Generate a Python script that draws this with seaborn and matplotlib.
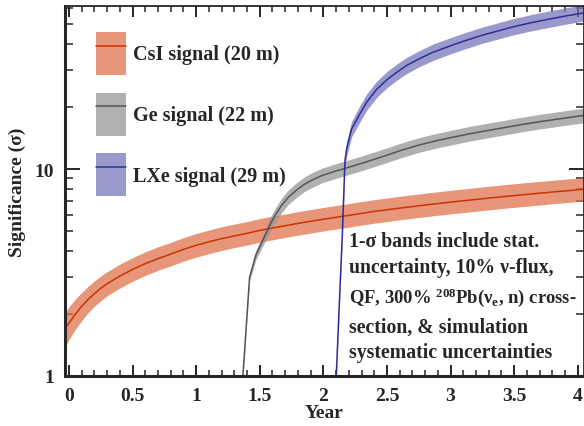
import numpy as np
import pandas as pd
import matplotlib
matplotlib.use("Agg")
import matplotlib.pyplot as plt
import seaborn as sns
from matplotlib.patches import Patch
from matplotlib.lines import Line2D
from matplotlib.legend_handler import HandlerTuple
from matplotlib.ticker import LogLocator, FixedLocator, MultipleLocator, NullFormatter

# CsI signal (20 m)
csi_year = [-0.03, 0.0, 0.05, 0.1, 0.15, 0.2, 0.25, 0.3, 0.4, 0.5, 0.6, 0.7, 0.8, 0.9, 1.0, 1.1, 1.2,
            1.3, 1.4, 1.5, 1.6, 1.7, 1.8, 1.9, 2.0, 2.2, 2.4, 2.6, 2.8, 3.0, 3.2, 3.4, 3.6, 3.8, 4.05]
csi_sig = [1.70, 1.80, 1.99, 2.17, 2.34, 2.50, 2.65, 2.79, 3.04, 3.27, 3.49, 3.69, 3.88, 4.09, 4.28, 4.45, 4.61,
           4.75, 4.89, 5.05, 5.19, 5.32, 5.46, 5.59, 5.72, 5.97, 6.24, 6.47, 6.70, 6.92, 7.13, 7.34, 7.54, 7.74, 7.98]
csi_lo = [1.38, 1.50, 1.68, 1.85, 2.02, 2.17, 2.31, 2.44, 2.66, 2.87, 3.06, 3.24, 3.40, 3.59, 3.75, 3.90, 4.04,
          4.17, 4.29, 4.43, 4.55, 4.67, 4.79, 4.90, 5.02, 5.24, 5.47, 5.68, 5.88, 6.07, 6.25, 6.44, 6.61, 6.79, 7.00]
csi_hi = [2.00, 2.16, 2.35, 2.53, 2.71, 2.88, 3.04, 3.19, 3.47, 3.73, 3.98, 4.21, 4.42, 4.66, 4.88, 5.07, 5.26,
          5.42, 5.57, 5.76, 5.92, 6.06, 6.22, 6.37, 6.52, 6.81, 7.11, 7.38, 7.64, 7.89, 8.13, 8.37, 8.60, 8.82, 9.10]

# Ge signal (22 m)
ge_year = [1.365, 1.42, 1.47, 1.541, 1.58, 1.62, 1.67, 1.724, 1.79, 1.855, 1.92, 1.987, 2.08, 2.17,
           2.327, 2.47, 2.62, 2.75, 2.89, 3.02, 3.15, 3.28, 3.41, 3.56, 3.72, 3.88, 4.05]
ge_sig = [0.95, 3.0, 3.85, 4.76, 5.38, 5.95, 6.65, 7.3, 7.92, 8.47, 8.9, 9.29, 9.7, 10.07,
          10.77, 11.5, 12.35, 13.05, 13.7, 14.25, 14.8, 15.3, 15.8, 16.4, 17.0, 17.55, 18.15]
ge_lo = [0.92, 2.88, 3.65, 4.45, 5.0, 5.5, 6.13, 6.73, 7.3, 7.81, 8.2, 8.56, 8.94, 9.28,
         9.93, 10.6, 11.38, 12.03, 12.63, 13.13, 13.64, 14.1, 14.56, 15.12, 15.67, 16.18, 16.73]
ge_hi = [0.98, 3.12, 4.06, 5.09, 5.8, 6.44, 7.21, 7.92, 8.59, 9.19, 9.66, 10.08, 10.52, 10.93,
         11.69, 12.48, 13.4, 14.16, 14.86, 15.46, 16.06, 16.6, 17.14, 17.79, 18.45, 19.04, 19.69]

# LXe signal (29 m)
lxe_year = [2.10, 2.125, 2.149, 2.17, 2.183, 2.222, 2.29, 2.34, 2.42, 2.5, 2.576, 2.65, 2.75, 2.86,
            3.0, 3.1, 3.25, 3.49, 3.62, 3.75, 3.9, 4.05]
lxe_sig = [0.95, 2.2, 4.8, 11.0, 12.5, 15.6, 18.6, 21.0, 24.3, 27.0, 29.3, 31.5, 34.0, 36.6,
           39.4, 41.4, 44.3, 48.6, 50.7, 52.6, 54.8, 56.8]
lxe_lo = [0.92, 2.1, 4.55, 10.3, 11.5, 14.3, 17.0, 19.2, 22.2, 24.7, 26.8, 28.8, 31.1, 33.4,
          36.0, 37.8, 40.5, 44.4, 46.3, 48.0, 50.0, 51.9]
lxe_hi = [0.98, 2.3, 5.05, 11.8, 13.6, 17.0, 20.4, 23.0, 26.6, 29.6, 32.1, 34.5, 37.2, 40.1,
          43.1, 45.3, 48.5, 53.2, 55.5, 57.6, 60.0, 62.2]

labels = ["CsI signal (20 m)", "Ge signal (22 m)", "LXe signal (29 m)"]
line_colors = ["#cc3300", "#555555", "#2e2e99"]
band_colors = ["#e0734e", "#969696", "#7777bb"]

note_lines = [
    "1-σ bands include stat.",
    "uncertainty, 10% ν-flux,",
    "QF, 300% $^{208}$Pb(ν$_{e}$, n) cross-",
    "section, & simulation",
    "systematic uncertainties",
]
note_sizes = [14.2, 14.2, 13.4, 14.2, 14.2]

df = pd.concat([
    pd.DataFrame({"year": csi_year, "sig": csi_sig, "det": labels[0]}),
    pd.DataFrame({"year": ge_year, "sig": ge_sig, "det": labels[1]}),
    pd.DataFrame({"year": lxe_year, "sig": lxe_sig, "det": labels[2]}),
])

sns.set_style("ticks")
plt.rcParams["font.family"] = ["Liberation Serif", "DejaVu Serif"]
plt.rcParams["font.weight"] = "bold"
plt.rcParams["mathtext.fontset"] = "custom"
plt.rcParams["mathtext.rm"] = "Liberation Serif:bold"
plt.rcParams["mathtext.default"] = "rm"

fig = plt.figure(figsize=(5.84, 4.27), dpi=100)
ax = fig.add_axes([65 / 584, 1 - 377 / 427, 519 / 584, 370 / 427])

bands = [(csi_year, csi_lo, csi_hi), (ge_year, ge_lo, ge_hi), (lxe_year, lxe_lo, lxe_hi)]
for (yr, lo, hi), bc in zip(bands, band_colors):
    ax.fill_between(yr, lo, hi, color=bc, alpha=0.75, lw=0)

sns.lineplot(data=df, x="year", y="sig", hue="det", palette=line_colors,
             linewidth=1.1, legend=False, ax=ax, sort=False)

ax.set_yscale("log")
ax.set_xlim(-0.031, 4.049)
ax.set_ylim(1, 61.3)

ax.set_xticks([0, 0.5, 1, 1.5, 2, 2.5, 3, 3.5, 4])
ax.set_xticklabels(["0", "0.5", "1", "1.5", "2", "2.5", "3", "3.5", "4"])
ax.xaxis.set_minor_locator(MultipleLocator(0.1))
ax.yaxis.set_major_locator(FixedLocator([1, 10]))
ax.yaxis.set_minor_locator(LogLocator(base=10, subs=np.arange(2, 10), numticks=10))
ax.yaxis.set_minor_formatter(NullFormatter())
ax.set_yticklabels(["1", "10"])

ax.tick_params(which="both", direction="in", top=True, right=True, labelsize=14, pad=8)
ax.tick_params(axis="x", which="major", length=8, width=1.4)
ax.tick_params(axis="x", which="minor", length=4, width=1.1)
ax.tick_params(axis="y", which="major", length=11, width=1.4)
ax.tick_params(axis="y", which="minor", length=5.5, width=1.1)
for s in ["left", "bottom"]:
    ax.spines[s].set_linewidth(2.2)
for s in ["top", "right"]:
    ax.spines[s].set_linewidth(1.3)

ax.set_xlabel("Year", fontsize=14, fontweight="bold", labelpad=0)
ax.set_ylabel("Significance (σ)", fontsize=14, fontweight="bold", labelpad=6)

handles = [(Patch(facecolor=bc, alpha=0.75, lw=0), Line2D([], [], color=lc, lw=1.1))
           for bc, lc in zip(band_colors, line_colors)]
ax.legend(handles, labels, handler_map={tuple: HandlerTuple(ndivide=1, pad=0)},
          loc="upper left", bbox_to_anchor=(0.06, 0.93), frameon=False,
          borderaxespad=0, borderpad=0, handlelength=1.49, handleheight=2.92,
          labelspacing=0.87, handletextpad=0.36,
          prop={"family": "Liberation Serif", "weight": "bold", "size": 14.5})

note_y = [0.352, 0.280, 0.199, 0.120, 0.0505]
for txt, yy, fs in zip(note_lines, note_y, note_sizes):
    ax.text(0.547, yy, txt, transform=ax.transAxes, fontsize=fs, fontweight="bold",
            va="baseline", ha="left")

fig.savefig("out.png", dpi=100)
